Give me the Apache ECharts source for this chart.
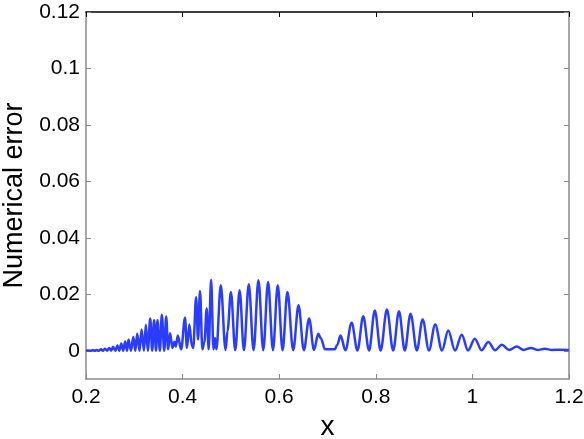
<!DOCTYPE html>
<html>
<head>
<meta charset="utf-8">
<script src="https://cdn.jsdelivr.net/npm/echarts@6/dist/echarts.min.js"></script>
<style>
  html, body { margin: 0; padding: 0; background: #fff; }
  #chart { width: 584px; height: 439px; }
</style>
</head>
<body>
<div id="chart"></div>
<script>
// x positions of the error curve (peaks and troughs)
var xs = [
  0.200, 0.205, 0.209, 0.214, 0.218, 0.222, 0.226, 0.231, 0.235, 0.239, 0.244,
  0.248, 0.252, 0.256, 0.261, 0.265, 0.269, 0.273, 0.277, 0.281, 0.285, 0.288,
  0.293, 0.298, 0.302, 0.306, 0.311, 0.315, 0.320, 0.324, 0.328, 0.333, 0.337,
  0.341, 0.345, 0.348, 0.353, 0.357, 0.362, 0.366, 0.370, 0.374, 0.379, 0.383,
  0.386, 0.390, 0.397, 0.405, 0.409, 0.414, 0.419, 0.422, 0.428, 0.432, 0.436,
  0.441, 0.445, 0.450, 0.454, 0.459, 0.464, 0.467, 0.470, 0.479, 0.489, 0.493,
  0.500, 0.509, 0.518, 0.527, 0.537, 0.547, 0.557, 0.567, 0.577, 0.587, 0.597,
  0.607, 0.617, 0.629, 0.640, 0.651, 0.662, 0.672, 0.681, 0.686, 0.695, 0.715,
  0.720, 0.727, 0.737, 0.750, 0.762, 0.774, 0.786, 0.798, 0.810, 0.823, 0.836,
  0.848, 0.860, 0.872, 0.885, 0.897, 0.910, 0.923, 0.937, 0.950, 0.964, 0.978,
  0.991, 1.005, 1.019, 1.033, 1.047, 1.061, 1.076, 1.092, 1.106, 1.121, 1.135,
  1.150, 1.165, 1.180, 1.200
];
var errs = [
  0.0001, 0.0001, 0.0000, 0.0002, 0.0000, 0.0003, 0.0000, 0.0005, 0.0000, 0.0007, 0.0000,
  0.0010, 0.0000, 0.0014, 0.0000, 0.0019, 0.0000, 0.0026, 0.0000, 0.0033, 0.0000, 0.0040,
  0.0000, 0.0049, 0.0000, 0.0060, 0.0000, 0.0075, 0.0000, 0.0092, 0.0000, 0.0114, 0.0000,
  0.0108, 0.0000, 0.0108, 0.0000, 0.0128, 0.0000, 0.0121, 0.0005, 0.0062, 0.0010, 0.0032,
  0.0015, 0.0054, 0.0005, 0.0117, 0.0010, 0.0093, 0.0020, 0.0010, 0.0190, 0.0040, 0.0212,
  0.0005, 0.0030, 0.0150, 0.0005, 0.0252, 0.0005, 0.0045, 0.0005, 0.0232, 0.0003, 0.0070,
  0.0208, 0.0002, 0.0214, 0.0002, 0.0236, 0.0002, 0.0250, 0.0002, 0.0244, 0.0002, 0.0232,
  0.0002, 0.0208, 0.0002, 0.0161, 0.0002, 0.0114, 0.0003, 0.0060, 0.0045, 0.0005, 0.0005,
  0.0020, 0.0054, 0.0002, 0.0099, 0.0001, 0.0122, 0.0001, 0.0143, 0.0001, 0.0146, 0.0001,
  0.0140, 0.0001, 0.0131, 0.0001, 0.0111, 0.0001, 0.0093, 0.0001, 0.0072, 0.0001, 0.0057,
  0.0001, 0.0043, 0.0002, 0.0031, 0.0002, 0.0021, 0.0003, 0.0015, 0.0003, 0.0010, 0.0003,
  0.0007, 0.0003, 0.0004, 0.0003
];
var xTicks = [0.2, 0.4, 0.6, 0.8, 1, 1.2];
var yTicks = [0, 0.02, 0.04, 0.06, 0.08, 0.1, 0.12];

var chart = echarts.init(document.getElementById('chart'));
var font = 'Liberation Sans, Arial, Helvetica, sans-serif';
var gray = '#8a8a8a';

var points = xs.map(function (x, i) { return [x, errs[i]]; });

var option = {
  animation: false,
  backgroundColor: '#fff',
  grid: { left: 86, right: 15, top: 12, bottom: 60, containLabel: false, outerBoundsMode: 'none' },
  xAxis: [
    {
      type: 'value', min: 0.2, max: 1.2, interval: 0.2,
      name: 'x', nameLocation: 'middle', nameGap: 28,
      nameTextStyle: { fontFamily: font, fontSize: 28, color: '#000' },
      axisLine: { show: true, onZero: false, lineStyle: { color: gray, width: 1.5 } },
      axisTick: { show: true, inside: true, length: 5, customValues: xTicks, lineStyle: { color: gray } },
      axisLabel: {
        fontFamily: font, fontSize: 21, color: '#000', margin: 8,
        customValues: xTicks,
        formatter: function (v) { return String(+v.toFixed(1)); }
      },
      splitLine: { show: false }
    },
    {
      type: 'value', position: 'top', min: 0.2, max: 1.2, interval: 0.2,
      axisLine: { show: true, onZero: false, lineStyle: { color: '#000', width: 1.5 } },
      axisTick: { show: true, inside: true, length: 5, customValues: xTicks, lineStyle: { color: '#000' } },
      axisLabel: { show: false },
      splitLine: { show: false }
    }
  ],
  yAxis: [
    {
      type: 'value', min: -0.01, max: 0.12,
      name: 'Numerical error', nameLocation: 'middle', nameGap: 47,
      nameTextStyle: { fontFamily: font, fontSize: 27, color: '#000' },
      axisLine: { show: true, onZero: false, lineStyle: { color: gray, width: 1.5 } },
      axisTick: { show: true, inside: true, length: 5, customValues: yTicks, lineStyle: { color: gray } },
      axisLabel: {
        fontFamily: font, fontSize: 21, color: '#000', margin: 6,
        customValues: yTicks,
        formatter: function (v) { return String(+v.toFixed(2)); }
      },
      splitLine: { show: false }
    },
    {
      type: 'value', position: 'right', min: -0.01, max: 0.12,
      axisLine: { show: true, onZero: false, lineStyle: { color: gray, width: 1.5 } },
      axisTick: { show: true, inside: true, length: 5, customValues: yTicks, lineStyle: { color: gray } },
      axisLabel: { show: false },
      splitLine: { show: false }
    }
  ],
  series: [
    {
      type: 'line',
      data: points,
      xAxisIndex: 0,
      yAxisIndex: 0,
      showSymbol: false,
      smooth: 0.35,
      smoothMonotone: 'x',
      lineStyle: { color: '#2a3dff', width: 2.5 }
    }
  ]
};

chart.setOption(option);
</script>
</body>
</html>
